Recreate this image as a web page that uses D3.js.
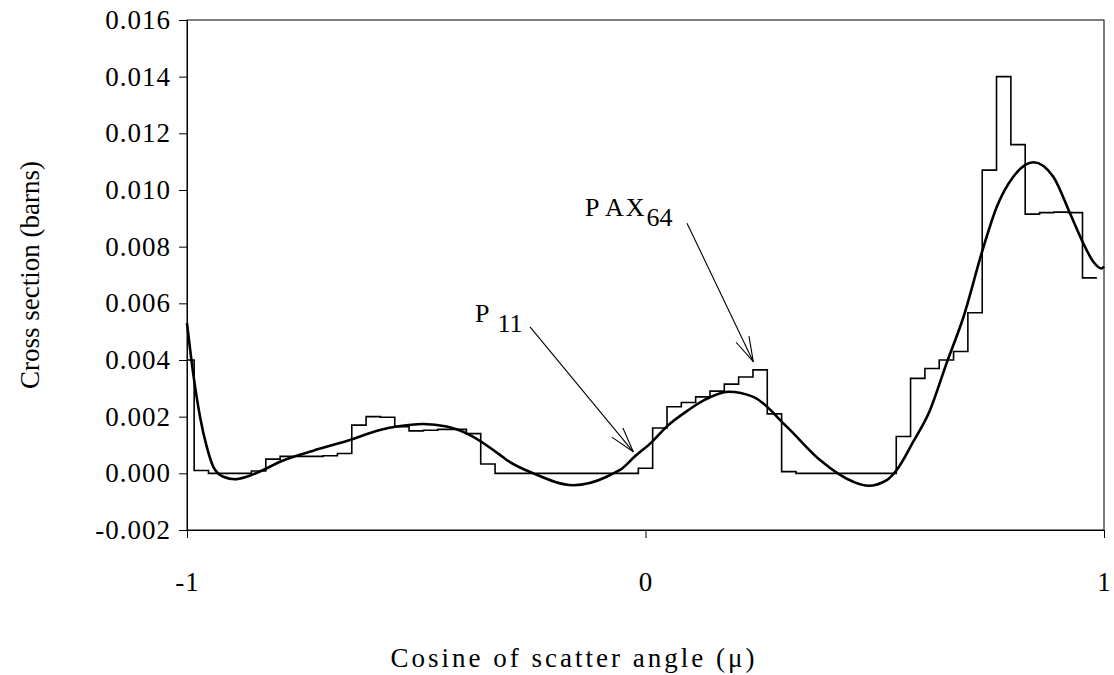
<!DOCTYPE html>
<html>
<head>
<meta charset="utf-8">
<script src="https://cdn.jsdelivr.net/npm/d3@7"></script>
<style>
  body { margin: 0; background: #fff; }
  text { font-family: "Liberation Serif", "Times New Roman", serif; fill: #000; }
</style>
</head>
<body>
<div id="chart"></div>
<script>
// Bin edges of the PAX64 histogram (cosine of scatter angle)
var binEdges = [-1, -0.9844, -0.9531, -0.9219, -0.8906, -0.8594, -0.8281, -0.7969, -0.7656,
    -0.7344, -0.7031, -0.6719, -0.6406, -0.6094, -0.5781, -0.5469, -0.5156, -0.4844, -0.4531,
    -0.4219, -0.3906, -0.3594, -0.3281, -0.2969, -0.2656, -0.2344, -0.2031, -0.1719, -0.1406,
    -0.1094, -0.0781, -0.0469, -0.0156, 0.0156, 0.0469, 0.0781, 0.1094, 0.1406, 0.1719, 0.2031,
    0.2344, 0.2656, 0.2969, 0.3281, 0.3594, 0.3906, 0.4219, 0.4531, 0.4844, 0.5156, 0.5469,
    0.5781, 0.6094, 0.6406, 0.6719, 0.7031, 0.7344, 0.7656, 0.7969, 0.8281, 0.8594, 0.8906,
    0.9219, 0.9531, 0.9844];

// PAX64 value in each bin (barns)
var paxValues = [0.0040, 0.0001, 0.0000, 0.0000, 0.0000, 0.00008, 0.0005, 0.0006, 0.0006,
    0.0006, 0.00062, 0.0007, 0.0017, 0.0020, 0.00198, 0.00165, 0.0015, 0.00152, 0.00155,
    0.00155, 0.0014, 0.00033, 0, 0, 0, 0, 0, 0, 0, 0, 0, 0,
    0.00018, 0.0016, 0.00235, 0.0025, 0.0027, 0.0029, 0.00315, 0.0034, 0.00365, 0.0021,
    0.00006, 0, 0, 0, 0, 0, 0, 0,
    0.0013, 0.00335, 0.0037, 0.0040, 0.0043, 0.00567, 0.0107, 0.0140, 0.0116, 0.00915,
    0.0092, 0.00922, 0.0092, 0.0069];

// P11 Legendre expansion
var p11Mu = [-1.0, -0.9863, -0.9716, -0.9570, -0.9426, -0.9208, -0.8953, -0.8698, -0.8336,
    -0.7972, -0.7245, -0.6517, -0.5791, -0.5426, -0.4846, -0.4336, -0.3828, -0.3173, -0.3027,
    -0.2447, -0.1575, -0.0846, -0.0702, -0.0556, -0.0229, 0.0135, 0.0462, 0.0933, 0.1298,
    0.1806, 0.2351, 0.3080, 0.3806, 0.4532, 0.4859, 0.5261, 0.5479, 0.5834, 0.6205, 0.6569,
    0.6931, 0.7355, 0.7660, 0.8022, 0.8458, 0.8894, 0.9258, 0.9548, 0.9767, 0.9950, 1.0];
var p11Val = [0.0053, 0.0035, 0.0020, 0.00094, 0.00023, -0.00012, -0.00021, -0.00012, 0.00012,
    0.00041, 0.0008, 0.00114, 0.00153, 0.00165, 0.00174, 0.00165, 0.00135, 0.00065, 0.00047,
    0.0, -0.00042, -0.00012, 0.0, 0.00012, 0.0006, 0.0011, 0.00165, 0.00223, 0.0026,
    0.00288, 0.0027, 0.00165, 0.00047, -0.0003, -0.00044, -0.00024, 0.00012, 0.0011, 0.00223, 0.0039,
    0.0055, 0.0079, 0.0094, 0.01047, 0.01098, 0.01047, 0.00918, 0.00812, 0.00747, 0.00723, 0.0073];

// Tick values
var xTicks = [-1, 0, 1];
var yTicks = [-0.002, 0, 0.002, 0.004, 0.006, 0.008, 0.010, 0.012, 0.014, 0.016];

// Annotation arrows: label, arrow start [mu, value], arrow tip [mu, value]
var notes = [
    { main: ["P"], sub: "11", from: [-0.2519, 0.00517], to: [-0.0266, 0.00076], text: [-0.3720, 0.00535] },
    { main: ["P", "AX"], sub: "64", from: [0.0905, 0.00883], to: [0.2351, 0.00394], text: [-0.1320, 0.00907] }
];

var svgWidth = 1114;
var svgHeight = 675;
var margin = { top: 20, right: 10, bottom: 145, left: 187 };
var chartWidth = svgWidth - margin.left - margin.right;
var chartHeight = svgHeight - margin.top - margin.bottom;
var fontSize = "27px";

var svg = d3.select("#chart").append("svg")
    .attr("width", svgWidth)
    .attr("height", svgHeight);

var chartGroup = svg.append("g")
    .attr("transform", `translate(${margin.left}, ${margin.top})`);

var xScale = d3.scaleLinear().domain([-1, 1]).range([0, chartWidth]);
var yScale = d3.scaleLinear().domain([-0.002, 0.016]).range([chartHeight, 0]);

// Frame
chartGroup.append("rect")
    .attr("x", 0).attr("y", 0)
    .attr("width", chartWidth).attr("height", chartHeight)
    .attr("fill", "none").attr("stroke", "#000").attr("stroke-width", 1);

// Axes
var yAxis = d3.axisLeft(yScale)
    .tickValues(yTicks)
    .tickSize(8)
    .tickPadding(8)
    .tickFormat(function(d) { return d.toFixed(3); });
var xAxis = d3.axisBottom(xScale)
    .tickValues(xTicks)
    .tickSize(8)
    .tickPadding(34)
    .tickFormat(function(d) { return String(d); });

var gy = chartGroup.append("g").call(yAxis);
var gx = chartGroup.append("g")
    .attr("transform", `translate(0, ${chartHeight})`)
    .call(xAxis);
[gx, gy].forEach(function(g) {
    g.select(".domain").attr("stroke", "#000");
    g.selectAll(".tick line").attr("stroke", "#000");
    g.selectAll("text")
        .attr("font-family", "Liberation Serif, Times New Roman, serif")
        .attr("font-size", fontSize)
        .attr("letter-spacing", "1px")
        .attr("fill", "#000");
});

// PAX64 step histogram
var stepPoints = binEdges.map(function(e, i) {
    return [e, paxValues[Math.min(i, paxValues.length - 1)]];
});
var stepLine = d3.line()
    .x(function(d) { return xScale(d[0]); })
    .y(function(d) { return yScale(d[1]); })
    .curve(d3.curveStepAfter);
chartGroup.append("path")
    .datum(stepPoints)
    .attr("d", stepLine)
    .attr("fill", "none")
    .attr("stroke", "#000")
    .attr("stroke-width", 1.6);

// P11 smooth curve
var curvePoints = p11Mu.map(function(m, i) { return [m, p11Val[i]]; });
var smoothLine = d3.line()
    .x(function(d) { return xScale(d[0]); })
    .y(function(d) { return yScale(d[1]); })
    .curve(d3.curveMonotoneX);
chartGroup.append("path")
    .datum(curvePoints)
    .attr("d", smoothLine)
    .attr("fill", "none")
    .attr("stroke", "#000")
    .attr("stroke-width", 2.6);

// Annotations with open arrow heads
notes.forEach(function(n) {
    var x1 = xScale(n.from[0]), y1 = yScale(n.from[1]);
    var x2 = xScale(n.to[0]), y2 = yScale(n.to[1]);
    chartGroup.append("line")
        .attr("x1", x1).attr("y1", y1).attr("x2", x2).attr("y2", y2)
        .attr("stroke", "#000").attr("stroke-width", 1.1);
    var ang = Math.atan2(y1 - y2, x1 - x2);
    var len = 26, spread = 16 * Math.PI / 180;
    [-spread, spread].forEach(function(s) {
        chartGroup.append("line")
            .attr("x1", x2).attr("y1", y2)
            .attr("x2", x2 + len * Math.cos(ang + s))
            .attr("y2", y2 + len * Math.sin(ang + s))
            .attr("stroke", "#000").attr("stroke-width", 1.1);
    });
    var label = chartGroup.append("text")
        .attr("x", xScale(n.text[0]))
        .attr("y", yScale(n.text[1]))
        .attr("font-size", "26px");
    n.main.forEach(function(part, i) {
        label.append("tspan")
            .attr("dx", i === 0 ? 0 : 6)
            .attr("letter-spacing", "2px")
            .text(part);
    });
    label.append("tspan")
        .attr("dy", 10)
        .attr("dx", n.main.length === 1 ? 6 : 0)
        .attr("font-size", "26px")
        .text(n.sub);
});

// Axis titles
chartGroup.append("text")
    .attr("transform", "rotate(-90)")
    .attr("x", -chartHeight / 2)
    .attr("y", -margin.left + 39)
    .attr("text-anchor", "middle")
    .attr("font-size", fontSize)
    .text("Cross section (barns)");

chartGroup.append("text")
    .attr("x", xScale(-0.156))
    .attr("y", chartHeight + 137)
    .attr("text-anchor", "middle")
    .attr("font-size", fontSize)
    .attr("letter-spacing", "3px")
    .text("Cosine of scatter angle (\u03bc)");
</script>
</body>
</html>
